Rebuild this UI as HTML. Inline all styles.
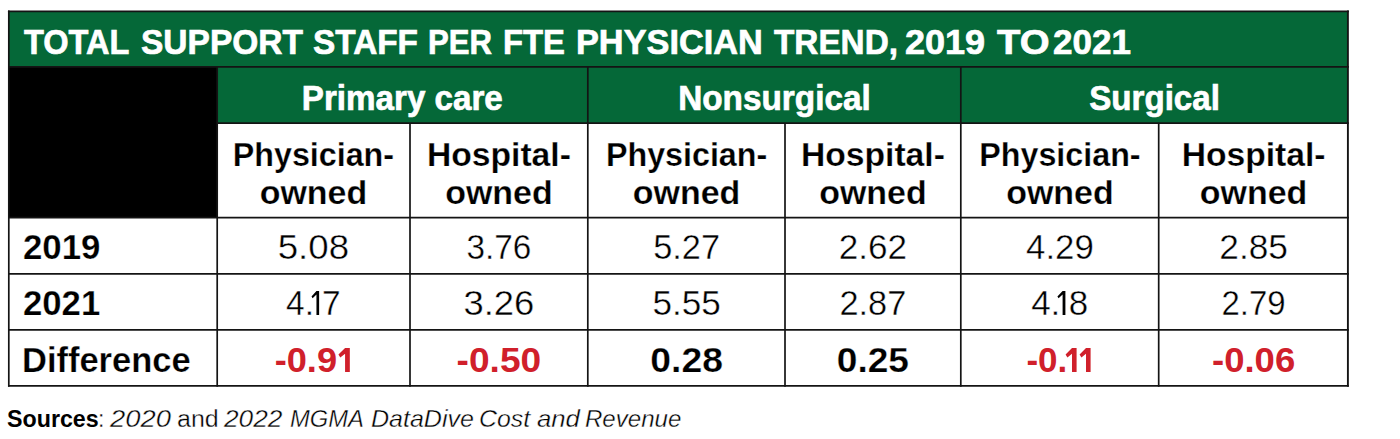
<!DOCTYPE html>
<html>
<head>
<meta charset="utf-8">
<style>
html,body{margin:0;padding:0;background:#fff;}
body{width:1400px;height:439px;position:relative;overflow:hidden;font-family:"Liberation Sans",sans-serif;}
.bx{position:absolute;}
.g{background:#056838;}
.k{background:#000;}
.t{position:absolute;white-space:nowrap;line-height:40px;height:40px;}
.c{text-align:center;}
.w{color:#fff;font-weight:bold;-webkit-text-stroke:0.7px #fff;}
.b{color:#000;font-weight:bold;-webkit-text-stroke:0.25px #fff;}
.n{color:#000;font-weight:normal;-webkit-text-stroke:0.4px #fff;}
.r{color:#d0202b;font-weight:bold;}
svg.grid{position:absolute;left:0;top:0;}
svg.one{display:inline-block;vertical-align:baseline;fill:currentColor;}
.lt{-webkit-text-stroke:0.35px #fff;}
.src{position:absolute;white-space:nowrap;line-height:30px;top:404px;font-size:23px;color:#000;transform-origin:0 0;}
</style>
</head>
<body>
<div class="bx g" style="left:8px;top:11px;width:1340px;height:56px;"></div>
<div class="bx k" style="left:8px;top:67px;width:210px;height:151px;"></div>
<div class="bx g" style="left:217px;top:67px;width:1131px;height:56px;"></div>
<svg class="grid" width="1400" height="439" viewBox="0 0 1400 439">
<g stroke="#141414" fill="none">
<line x1="7.95" y1="11.45" x2="1348.85" y2="11.45" stroke-width="1.7"/>
<line x1="8.8" y1="10.6" x2="8.8" y2="386.7" stroke-width="1.7"/>
<line x1="1347.9" y1="10.6" x2="1347.9" y2="386.7" stroke-width="1.9"/>
<line x1="8" y1="66.9" x2="1348.8" y2="66.9" stroke-width="1.6"/>
<line x1="217.2" y1="123.05" x2="1348.8" y2="123.05" stroke-width="1.65"/>
<line x1="8" y1="217.6" x2="1348.8" y2="217.6" stroke-width="1.65"/>
<line x1="8" y1="273.8" x2="1348.8" y2="273.8" stroke-width="1.65"/>
<line x1="8" y1="329.8" x2="1348.8" y2="329.8" stroke-width="1.65"/>
<line x1="8" y1="385.8" x2="1348.8" y2="385.8" stroke-width="1.65"/>
<line x1="217.2" y1="66.9" x2="217.2" y2="386.7" stroke-width="1.7"/>
<line x1="587.8" y1="66.9" x2="587.8" y2="386.7" stroke-width="1.7"/>
<line x1="960.8" y1="66.9" x2="960.8" y2="386.7" stroke-width="1.7"/>
<line x1="410.0" y1="123.05" x2="410.0" y2="386.7" stroke-width="1.7"/>
<line x1="785.0" y1="123.05" x2="785.0" y2="386.7" stroke-width="1.7"/>
<line x1="1158.7" y1="123.05" x2="1158.7" y2="386.7" stroke-width="1.7"/>
</g>
</svg>
<div class="t w" style="left:24.3px;top:22px;font-size:35px;transform:scaleX(0.9292);transform-origin:0 0;">TOTAL</div>
<div class="t w" style="left:141.14px;top:22px;font-size:35px;transform:scaleX(0.9571);transform-origin:0 0;">SUPPORT</div>
<div class="t w" style="left:312.95px;top:22px;font-size:35px;transform:scaleX(0.9528);transform-origin:0 0;">STAFF</div>
<div class="t w" style="left:427.82px;top:22px;font-size:35px;transform:scaleX(0.8886);transform-origin:0 0;">PER</div>
<div class="t w" style="left:502.73px;top:22px;font-size:35px;transform:scaleX(0.9365);transform-origin:0 0;">FTE</div>
<div class="t w" style="left:575.54px;top:22px;font-size:35px;transform:scaleX(0.9797);transform-origin:0 0;">PHYSICIAN</div>
<div class="t w" style="left:773.6px;top:22px;font-size:35px;transform:scaleX(0.9516);transform-origin:0 0;">TREND,</div>
<div class="t w" style="left:905.07px;top:22px;font-size:35px;transform:scaleX(1.0289);transform-origin:0 0;">2019</div>
<div class="t w" style="left:997.1px;top:22px;font-size:35px;transform:scaleX(1.0957);transform-origin:0 0;">TO</div>
<div class="t w" style="left:1052.9px;top:22px;font-size:35px;transform:scaleX(1.0013);transform-origin:0 0;">2021</div>
<div class="t w c" style="left:217.2px;width:370.6px;top:78px;font-size:35px;transform:scaleX(0.9474);transform-origin:50% 0;">Primary care</div>
<div class="t w c" style="left:587.8px;width:373.0px;top:78px;font-size:35px;transform:scaleX(0.9525);transform-origin:50% 0;">Nonsurgical</div>
<div class="t w c" style="left:960.8px;width:387.1px;top:78px;font-size:35px;transform:scaleX(0.9467);transform-origin:50% 0;">Surgical</div>
<div class="t b c" style="left:217.2px;width:192.8px;top:134px;font-size:34px;transform:scaleX(0.9485);transform-origin:50% 0;">Physician-</div>
<div class="t b c" style="left:217.2px;width:192.8px;top:172px;font-size:34px;transform:scaleX(0.9981);transform-origin:50% 0;">owned</div>
<div class="t b c" style="left:410.0px;width:177.8px;top:134px;font-size:34px;transform:scaleX(0.9894);transform-origin:50% 0;">Hospital-</div>
<div class="t b c" style="left:410.0px;width:177.8px;top:172px;font-size:34px;transform:scaleX(0.9981);transform-origin:50% 0;">owned</div>
<div class="t b c" style="left:587.8px;width:197.2px;top:134px;font-size:34px;transform:scaleX(0.9485);transform-origin:50% 0;">Physician-</div>
<div class="t b c" style="left:587.8px;width:197.2px;top:172px;font-size:34px;transform:scaleX(0.9981);transform-origin:50% 0;">owned</div>
<div class="t b c" style="left:785.0px;width:175.8px;top:134px;font-size:34px;transform:scaleX(0.9894);transform-origin:50% 0;">Hospital-</div>
<div class="t b c" style="left:785.0px;width:175.8px;top:172px;font-size:34px;transform:scaleX(0.9981);transform-origin:50% 0;">owned</div>
<div class="t b c" style="left:960.8px;width:197.9px;top:134px;font-size:34px;transform:scaleX(0.9485);transform-origin:50% 0;">Physician-</div>
<div class="t b c" style="left:960.8px;width:197.9px;top:172px;font-size:34px;transform:scaleX(0.9981);transform-origin:50% 0;">owned</div>
<div class="t b c" style="left:1158.7px;width:189.2px;top:134px;font-size:34px;transform:scaleX(0.9894);transform-origin:50% 0;">Hospital-</div>
<div class="t b c" style="left:1158.7px;width:189.2px;top:172px;font-size:34px;transform:scaleX(0.9981);transform-origin:50% 0;">owned</div>
<div class="t b" style="left:23px;top:227px;font-size:35px;transform:scaleX(0.9947);transform-origin:0 0;">2019</div>
<div class="t b" style="left:23px;top:283px;font-size:35px;transform:scaleX(0.9921);transform-origin:0 0;">2021</div>
<div class="t b" style="left:22px;top:340px;font-size:35px;transform:scaleX(0.985);transform-origin:0 0;">Difference</div>
<div class="t n c" style="left:217.2px;width:192.8px;top:227px;font-size:35px;transform:scaleX(1.0477);transform-origin:50% 0;">5.08</div>
<div class="t n c" style="left:410.0px;width:177.8px;top:227px;font-size:35px;transform:scaleX(0.9523);transform-origin:50% 0;">3.76</div>
<div class="t n c" style="left:587.8px;width:197.2px;top:227px;font-size:35px;transform:scaleX(0.9815);transform-origin:50% 0;">5.27</div>
<div class="t n c" style="left:785.0px;width:175.8px;top:227px;font-size:35px;transform:scaleX(1.0031);transform-origin:50% 0;">2.62</div>
<div class="t n c" style="left:960.8px;width:197.9px;top:227px;font-size:35px;transform:scaleX(0.9939);transform-origin:50% 0;">4.29</div>
<div class="t n c" style="left:1158.7px;width:189.2px;top:227px;font-size:35px;transform:scaleX(1.0077);transform-origin:50% 0;">2.85</div>
<div class="t n c" style="left:217.2px;width:192.8px;top:283px;font-size:35px;transform:scaleX(0.955);transform-origin:50% 0;">4.<svg class="one" style="margin-left:-3px" width="11.5" height="25" viewBox="0 0 11.5 25"><path d="M5.6,1H8.4V25H5.6V4.6L1.6,8.3L0.4,6.4Z"/></svg>7</div>
<div class="t n c" style="left:410.0px;width:177.8px;top:283px;font-size:35px;transform:scaleX(1.0415);transform-origin:50% 0;">3.26</div>
<div class="t n c" style="left:587.8px;width:197.2px;top:283px;font-size:35px;transform:scaleX(1.0031);transform-origin:50% 0;">5.55</div>
<div class="t n c" style="left:785.0px;width:175.8px;top:283px;font-size:35px;transform:scaleX(0.9815);transform-origin:50% 0;">2.87</div>
<div class="t n c" style="left:960.8px;width:197.9px;top:283px;font-size:35px;transform:scaleX(1.0);transform-origin:50% 0;">4.<svg class="one" style="margin-left:-3px" width="11.5" height="25" viewBox="0 0 11.5 25"><path d="M5.6,1H8.4V25H5.6V4.6L1.6,8.3L0.4,6.4Z"/></svg>8</div>
<div class="t n c" style="left:1158.7px;width:189.2px;top:283px;font-size:35px;transform:scaleX(0.9415);transform-origin:50% 0;">2.79</div>
<div class="t r c" style="left:217.2px;width:192.8px;top:340px;font-size:35px;transform:scaleX(1.035);transform-origin:50% 0;">-0.9<svg class="one" width="14.6" height="25" viewBox="0 0 14.6 25"><path d="M8,1H12.6V25H8V6.8L3.4,10.6L1.6,7.6Z"/></svg></div>
<div class="t r c" style="left:410.0px;width:177.8px;top:340px;font-size:35px;transform:scaleX(1.0597);transform-origin:50% 0;">-0.50</div>
<div class="t b c" style="left:587.8px;width:197.2px;top:340px;font-size:35px;transform:scaleX(1.0652);transform-origin:50% 0;">0.28</div>
<div class="t b c" style="left:785.0px;width:175.8px;top:340px;font-size:35px;transform:scaleX(1.0591);transform-origin:50% 0;">0.25</div>
<div class="t r c" style="left:960.8px;width:197.9px;top:340px;font-size:35px;transform:scaleX(1);transform-origin:50% 0;">-0.<svg class="one" style="margin-left:-3.5px" width="14.6" height="25" viewBox="0 0 14.6 25"><path d="M8,1H12.6V25H8V6.8L3.4,10.6L1.6,7.6Z"/></svg><svg class="one" width="14.6" height="25" viewBox="0 0 14.6 25"><path d="M8,1H12.6V25H8V6.8L3.4,10.6L1.6,7.6Z"/></svg></div>
<div class="t r c" style="left:1158.7px;width:189.2px;top:340px;font-size:35px;transform:scaleX(1.0423);transform-origin:50% 0;">-0.06</div>
<div class="src" style="left:7.39px;font-weight:bold;font-style:normal;transform:scaleX(1.0101);">Sources</div>
<div class="src lt" style="left:98.0px;font-weight:normal;font-style:normal;transform:scaleX(1.0);">:</div>
<div class="src lt" style="left:109.91px;font-weight:normal;font-style:italic;transform:scaleX(1.19);">2020</div>
<div class="src lt" style="left:176.91px;font-weight:normal;font-style:normal;transform:scaleX(1.0861);">and</div>
<div class="src lt" style="left:223.76px;font-weight:normal;font-style:italic;transform:scaleX(1.142);">2022</div>
<div class="src lt" style="left:290.37px;font-weight:normal;font-style:italic;transform:scaleX(1.0319);">MGMA</div>
<div class="src lt" style="left:370.91px;font-weight:normal;font-style:italic;transform:scaleX(1.0882);">DataDive</div>
<div class="src lt" style="left:479.44px;font-weight:normal;font-style:italic;transform:scaleX(1.0804);">Cost</div>
<div class="src lt" style="left:537.08px;font-weight:normal;font-style:italic;transform:scaleX(1.1189);">and</div>
<div class="src lt" style="left:585.45px;font-weight:normal;font-style:italic;transform:scaleX(1.0456);">Revenue</div>
</body>
</html>
